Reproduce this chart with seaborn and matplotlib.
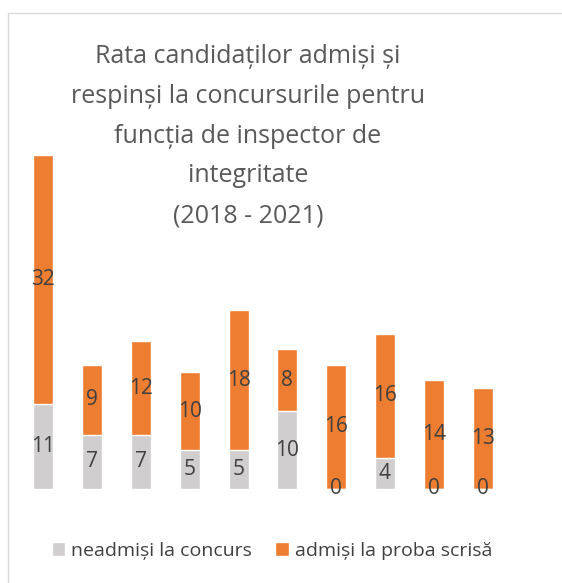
import matplotlib
matplotlib.use("Agg")
import matplotlib.pyplot as plt
from matplotlib.patches import Rectangle, Patch
import numpy as np
import pandas as pd
import seaborn as sns

# data
concursuri = ["C1", "C2", "C3", "C4", "C5", "C6", "C7", "C8", "C9", "C10"]
neadmisi = [11, 7, 7, 5, 5, 10, 0, 4, 0, 0]
admisi_scris = [32, 9, 12, 10, 18, 8, 16, 16, 14, 13]
legend_labels = ["neadmiși la concurs", "admiși la proba scrisă"]
title = "Rata candidaților admiși și\nrespinși la concursurile pentru\nfuncția de inspector de\nintegritate\n(2018 - 2021)"

GRAY = "#d0cece"
ORANGE = "#ed7d31"
TXT = "#404040"

sns.set_theme(style="white")
plt.rcParams["font.family"] = ["Open Sans", "DejaVu Sans"]

df = pd.DataFrame({"concurs": concursuri, "neadmisi": neadmisi, "admisi": admisi_scris})
df["total"] = df["neadmisi"] + df["admisi"]

W, H = 562, 583
fig = plt.figure(figsize=(W / 100, H / 100), dpi=100)

# chart border (left and top visible, rest cropped)
fig.patches.append(Rectangle((8 / W, -0.1), 1.2, (H - 13) / H + 0.1, transform=fig.transFigure,
                             fill=False, edgecolor="#d9d9d9", lw=1))

px_unit = (489 - 155) / 43
ymax = 60
ax = fig.add_axes([19 / W, (H - 489) / H, 488 / W, ymax * px_unit / H])

sns.barplot(data=df, x="concurs", y="total", color=ORANGE, width=0.41, saturation=1, ax=ax)
sns.barplot(data=df, x="concurs", y="neadmisi", color=GRAY, width=0.41, saturation=1, ax=ax)

ax.set_xlim(-0.5, len(concursuri) - 0.5)
ax.set_ylim(0, ymax)
ax.set_xlabel("")
ax.set_ylabel("")
ax.set_xticks([])
ax.set_yticks([])
for s in ax.spines.values():
    s.set_visible(False)
ax.patch.set_alpha(0)

for i, (g, o) in enumerate(zip(neadmisi, admisi_scris)):
    ax.text(i, g / 2, str(g), ha="center", va="center", fontsize=15, color=TXT)
    ax.text(i, g + o / 2, str(o), ha="center", va="center", fontsize=15, color=TXT)

fig.text(248 / W, 1 - 44 / H, title, ha="center", va="top", fontsize=18,
         color="#595959", linespacing=1.78)

handles = [Patch(facecolor=GRAY), Patch(facecolor=ORANGE)]
fig.legend(handles, legend_labels, loc="center", bbox_to_anchor=(272 / W, 1 - 551 / H), ncol=2,
           frameon=False, fontsize=14, handlelength=0.7, handleheight=0.7, handletextpad=0.3,
           columnspacing=1.2, labelcolor=TXT, borderpad=0, borderaxespad=0)

fig.savefig("out.png", dpi=100)
